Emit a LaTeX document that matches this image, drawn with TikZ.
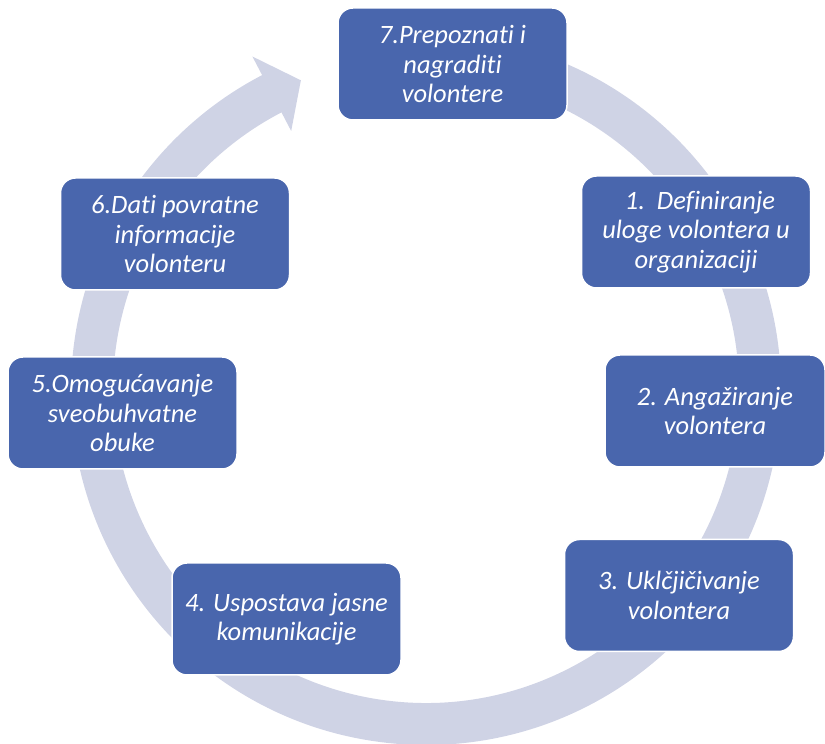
\documentclass[tikz,border=0pt]{standalone}
\usepackage{fontspec}
\usetikzlibrary{calc}
\setmainfont{Carlito}[Ligatures=NoCommon]
\definecolor{boxblue}{HTML}{4966AD}
\definecolor{ringcol}{HTML}{CFD3E5}
\begin{document}
\begin{tikzpicture}[x=1pt,y=1pt,
  stepbox/.style={draw=white, line width=1.5pt, fill=boxblue, rounded corners=15pt,
    minimum width=229pt, minimum height=112pt, inner sep=0pt, align=center,
    text=white, font=\fontsize{26.5}{29.5}\selectfont\itshape}]
\useasboundingbox (0,0) rectangle (825,744);
\coordinate (c) at (426,354);
% circular arrow
\fill[ringcol] ($(c)+(85:355)$) arc[start angle=85, end angle=-242.5, radius=355]
  -- ($(c)+(117.5:376)$) -- ($(c)+(112:334)$) -- ($(c)+(117.5:292)$)
  -- ($(c)+(117.5:313)$) arc[start angle=-242.5, end angle=85, radius=313] -- cycle;
% boxes
\node[stepbox] (s7) at (452.5,680) {7.Prepoznati i\\nagraditi\\volontere};
\node[stepbox] (s1) at (696,512) {\hspace*{8pt}1.\ \ Definiranje\\uloge volontera u\\organizaciji};
\node[stepbox, minimum width=220pt] (s2) at (715,333) {2. Angažiranje\\volontera};
\node[stepbox] (s3) at (679,148.5) {3. Uklčjičivanje\\volontera};
\node[stepbox] (s4) at (286.5,125) {4. Uspostava jasne\\komunikacije};
\node[stepbox] (s5) at (122.5,331) {5.Omogućavanje\\sveobuhvatne\\obuke};
\node[stepbox] (s6) at (175,510) {6.Dati povratne\\informacije\\volonteru};
\end{tikzpicture}
\end{document}
